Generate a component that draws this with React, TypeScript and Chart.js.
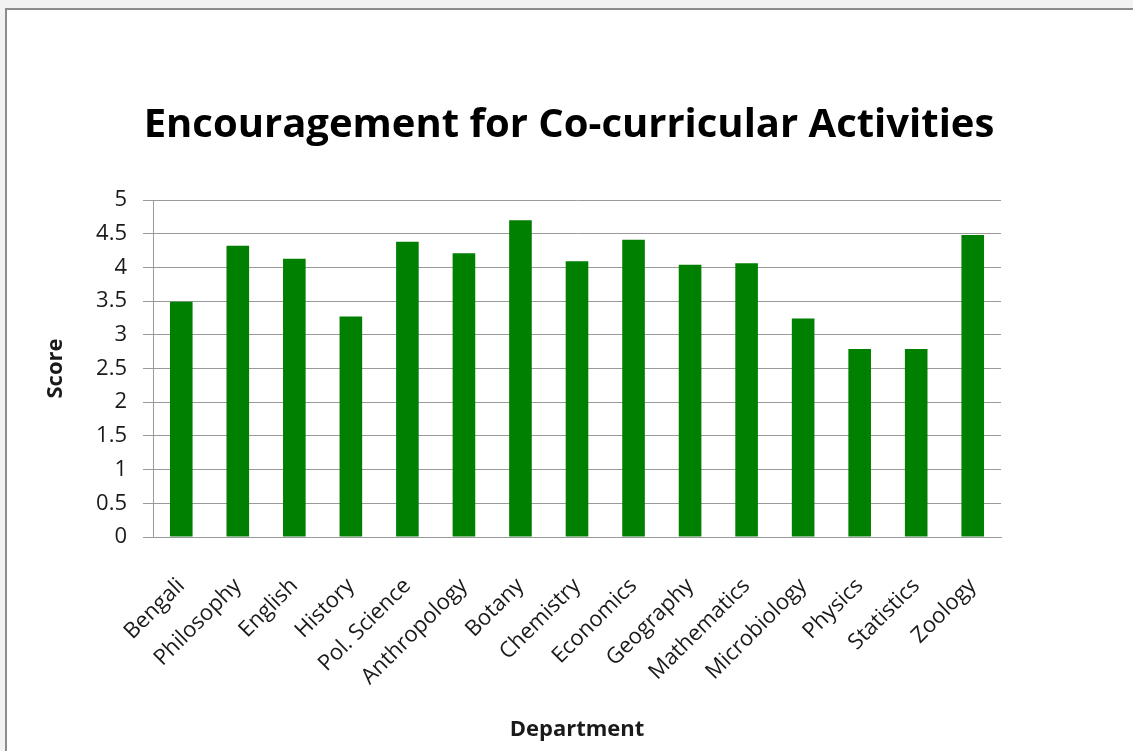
import React, { useEffect, useRef } from "react";
import { Chart, registerables } from "chart.js";

Chart.register(...registerables);

const chartTitle = "Encouragement for Co-curricular Activities";
const xAxisTitle = "Department";
const yAxisTitle = "Score";

const categories = [
  "Bengali",
  "Philosophy",
  "English",
  "History",
  "Pol. Science",
  "Anthropology",
  "Botany",
  "Chemistry",
  "Economics",
  "Geography",
  "Mathematics",
  "Microbiology",
  "Physics",
  "Statistics",
  "Zoology",
];

const scores = [3.49, 4.32, 4.13, 3.27, 4.38, 4.21, 4.7, 4.09, 4.41, 4.04, 4.06, 3.24, 2.79, 2.79, 4.48];

const yMin = 0;
const yMax = 5;
const yStep = 0.5;

const FONT = "'Open Sans', 'DejaVu Sans', sans-serif";

const titlePlugin = {
  id: "customTitle",
  afterDraw(chart: any) {
    const ctx = chart.ctx;
    ctx.save();
    ctx.font = `bold 40px ${FONT}`;
    ctx.fillStyle = "#000000";
    ctx.textAlign = "center";
    ctx.textBaseline = "alphabetic";
    ctx.fillText(chartTitle, 569, 137);
    ctx.restore();
  },
};

export default function App() {
  const canvasRef = useRef<HTMLCanvasElement | null>(null);

  useEffect(() => {
    document.body.style.margin = "0";
    const canvas = canvasRef.current;
    if (!canvas) return;
    const chart = new Chart(canvas, {
      type: "bar",
      data: {
        labels: categories,
        datasets: [
          {
            label: yAxisTitle,
            data: scores,
            backgroundColor: "#008000",
            borderWidth: 0,
            barPercentage: 0.4,
            categoryPercentage: 1.0,
          },
        ],
      },
      options: {
        animation: false,
        responsive: false,
        maintainAspectRatio: false,
        layout: { padding: { left: 30, right: 132, top: 200, bottom: 0 } },
        plugins: {
          legend: { display: false },
          title: { display: false },
          tooltip: { enabled: false },
        },
        scales: {
          x: {
            type: "category",
            grid: { display: false, drawTicks: false },
            border: { display: true, color: "#9a9a9a", width: 1 },
            ticks: {
              autoSkip: false,
              minRotation: 45,
              maxRotation: 45,
              padding: 36,
              color: "#1a1a1a",
              font: { family: FONT, size: 22 },
            },
            title: {
              display: true,
              text: xAxisTitle,
              color: "#1a1a1a",
              font: { family: FONT, size: 22, weight: "bold" },
              padding: { top: 0, bottom: 8 },
            },
            afterFit(scale: any) {
              scale.height = 214;
            },
          },
          y: {
            min: yMin,
            max: yMax,
            ticks: {
              stepSize: yStep,
              padding: 16,
              color: "#1a1a1a",
              font: { family: FONT, size: 22 },
              callback: (v: any) => String(v),
            },
            grid: { color: "#9a9a9a", lineWidth: 1, drawTicks: true, tickLength: 10 },
            border: { display: true, color: "#9a9a9a", width: 1 },
            title: {
              display: true,
              text: yAxisTitle,
              color: "#1a1a1a",
              font: { family: FONT, size: 22, weight: "bold" },
              padding: { top: 13, bottom: 0 },
            },
            afterFit(scale: any) {
              scale.width = 123;
            },
          },
        },
      },
      plugins: [titlePlugin],
    });
    return () => chart.destroy();
  }, []);

  return (
    <div
      style={{
        position: "fixed",
        left: 0,
        top: 0,
        width: 1133,
        height: 751,
        background: "#f2f2f2",
        overflow: "hidden",
      }}
    >
      <div
        style={{
          position: "absolute",
          left: 5,
          top: 8,
          width: 1150,
          height: 770,
          border: "2px solid #8c8c8c",
          background: "#ffffff",
        }}
      />
      <canvas
        ref={canvasRef}
        width={1133}
        height={751}
        style={{ position: "absolute", left: 0, top: 0, width: 1133, height: 751 }}
      />
    </div>
  );
}
